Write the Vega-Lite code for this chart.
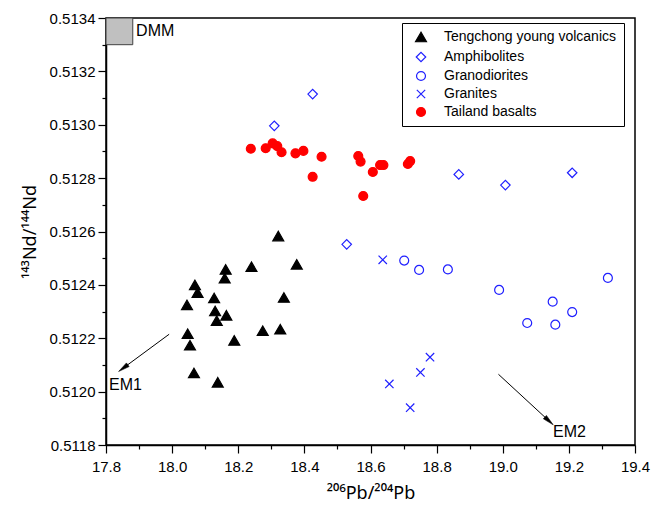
{
  "$schema": "https://vega.github.io/schema/vega-lite/v6.json",
  "width": 529,
  "height": 427,
  "autosize": "none",
  "padding": {"left": 106, "top": 18, "right": 16, "bottom": 66},
  "background": "white",
  "config": {
    "font": "Liberation Sans",
    "view": {"stroke": "black", "strokeWidth": 1.5},
    "axis": {
      "grid": false,
      "domainColor": "black",
      "domainWidth": 1.5,
      "tickColor": "black",
      "tickWidth": 1.2,
      "labelColor": "black",
      "titleColor": "black",
      "labelFont": "Liberation Sans",
      "titleFont": "Noto Sans",
      "labelFontSize": 15,
      "titleFontSize": 18,
      "titleFontWeight": "normal",
      "labelOverlap": false,
      "labelFlush": false
    }
  },
  "datasets": {
    "pts": [
      {"group": "Tengchong young volcanics", "x": 18.321, "y": 0.512583},
      {"group": "Tengchong young volcanics", "x": 18.162, "y": 0.512458},
      {"group": "Tengchong young volcanics", "x": 18.24, "y": 0.512468},
      {"group": "Tengchong young volcanics", "x": 18.377, "y": 0.512477},
      {"group": "Tengchong young volcanics", "x": 18.159, "y": 0.512425},
      {"group": "Tengchong young volcanics", "x": 18.069, "y": 0.5124},
      {"group": "Tengchong young volcanics", "x": 18.077, "y": 0.512371},
      {"group": "Tengchong young volcanics", "x": 18.045, "y": 0.512325},
      {"group": "Tengchong young volcanics", "x": 18.127, "y": 0.512351},
      {"group": "Tengchong young volcanics", "x": 18.338, "y": 0.512353},
      {"group": "Tengchong young volcanics", "x": 18.13, "y": 0.512302},
      {"group": "Tengchong young volcanics", "x": 18.164, "y": 0.512286},
      {"group": "Tengchong young volcanics", "x": 18.135, "y": 0.512266},
      {"group": "Tengchong young volcanics", "x": 18.047, "y": 0.512217},
      {"group": "Tengchong young volcanics", "x": 18.274, "y": 0.512228},
      {"group": "Tengchong young volcanics", "x": 18.327, "y": 0.512234},
      {"group": "Tengchong young volcanics", "x": 18.188, "y": 0.512192},
      {"group": "Tengchong young volcanics", "x": 18.054, "y": 0.512174},
      {"group": "Tengchong young volcanics", "x": 18.066, "y": 0.51207},
      {"group": "Tengchong young volcanics", "x": 18.138, "y": 0.512035},
      {"group": "Amphibolites", "x": 18.425, "y": 0.513115},
      {"group": "Amphibolites", "x": 18.309, "y": 0.512996},
      {"group": "Amphibolites", "x": 18.528, "y": 0.512552},
      {"group": "Amphibolites", "x": 18.867, "y": 0.512814},
      {"group": "Amphibolites", "x": 19.008, "y": 0.512774},
      {"group": "Amphibolites", "x": 19.21, "y": 0.51282},
      {"group": "Granodiorites", "x": 18.702, "y": 0.512491},
      {"group": "Granodiorites", "x": 18.747, "y": 0.512456},
      {"group": "Granodiorites", "x": 18.834, "y": 0.512458},
      {"group": "Granodiorites", "x": 18.989, "y": 0.512381},
      {"group": "Granodiorites", "x": 19.151, "y": 0.512337},
      {"group": "Granodiorites", "x": 19.21, "y": 0.512298},
      {"group": "Granodiorites", "x": 19.074, "y": 0.512257},
      {"group": "Granodiorites", "x": 19.159, "y": 0.512251},
      {"group": "Granodiorites", "x": 19.318, "y": 0.512426},
      {"group": "Granites", "x": 18.637, "y": 0.512494},
      {"group": "Granites", "x": 18.657, "y": 0.512029},
      {"group": "Granites", "x": 18.72, "y": 0.51194},
      {"group": "Granites", "x": 18.751, "y": 0.512072},
      {"group": "Granites", "x": 18.78, "y": 0.512129},
      {"group": "Tailand basalts", "x": 18.238, "y": 0.51291},
      {"group": "Tailand basalts", "x": 18.283, "y": 0.512912},
      {"group": "Tailand basalts", "x": 18.304, "y": 0.51293},
      {"group": "Tailand basalts", "x": 18.318, "y": 0.51292},
      {"group": "Tailand basalts", "x": 18.331, "y": 0.512897},
      {"group": "Tailand basalts", "x": 18.373, "y": 0.512893},
      {"group": "Tailand basalts", "x": 18.397, "y": 0.512902},
      {"group": "Tailand basalts", "x": 18.452, "y": 0.51288},
      {"group": "Tailand basalts", "x": 18.425, "y": 0.512805},
      {"group": "Tailand basalts", "x": 18.563, "y": 0.512883},
      {"group": "Tailand basalts", "x": 18.57, "y": 0.512862},
      {"group": "Tailand basalts", "x": 18.607, "y": 0.512823},
      {"group": "Tailand basalts", "x": 18.629, "y": 0.512849},
      {"group": "Tailand basalts", "x": 18.639, "y": 0.512849},
      {"group": "Tailand basalts", "x": 18.713, "y": 0.512853},
      {"group": "Tailand basalts", "x": 18.72, "y": 0.512864},
      {"group": "Tailand basalts", "x": 18.578, "y": 0.512733}
    ],
    "dmm": [{"x": 17.8, "x2": 17.881, "y": 0.5133, "y2": 0.5134}],
    "labels": [
      {"x": 17.891, "y": 0.51335, "label": "DMM"},
      {"x": 17.809, "y": 0.512025, "label": "EM1"},
      {"x": 19.152, "y": 0.51185, "label": "EM2"}
    ],
    "arrows": [
      {"name": "EM1", "x": 17.991, "y": 0.512215, "hx": 17.852, "hy": 0.512088},
      {"name": "EM2", "x": 18.987, "y": 0.512065, "hx": 19.14, "hy": 0.51189}
    ]
  },
  "encoding": {
    "x": {
      "field": "x",
      "type": "quantitative",
      "scale": {"domain": [17.8, 19.4], "nice": false, "zero": false},
      "axis": {
        "title": "²⁰⁶Pb/²⁰⁴Pb",
        "values": [17.8, 17.9, 18.0, 18.1, 18.2, 18.3, 18.4, 18.5, 18.6, 18.7, 18.8, 18.9, 19.0, 19.1, 19.2, 19.3, 19.4],
        "labelExpr": "round(datum.value*10)%2==0 ? format(datum.value,'.1f') : ''",
        "tickSize": {"condition": {"test": "round(datum.value*10)%2==0", "value": 8}, "value": 4},
        "labelPadding": 6,
        "titlePadding": 10
      }
    },
    "y": {
      "field": "y",
      "type": "quantitative",
      "scale": {"domain": [0.5118, 0.5134], "nice": false, "zero": false},
      "axis": {
        "title": "¹⁴³Nd/¹⁴⁴Nd",
        "values": [0.5118, 0.5119, 0.512, 0.5121, 0.5122, 0.5123, 0.5124, 0.5125, 0.5126, 0.5127, 0.5128, 0.5129, 0.513, 0.5131, 0.5132, 0.5133, 0.5134],
        "labelExpr": "round(datum.value*10000)%2==0 ? format(datum.value,'.4f') : ''",
        "tickSize": {"condition": {"test": "round(datum.value*10000)%2==0", "value": 8}, "value": 4},
        "labelPadding": 3,
        "titlePadding": 10
      }
    }
  },
  "layer": [
    {
      "data": {"name": "dmm"},
      "mark": {"type": "rect", "fill": "#c0c0c0", "stroke": "#404040", "strokeWidth": 1},
      "encoding": {"x2": {"field": "x2"}, "y2": {"field": "y2"}}
    },
    {
      "data": {"name": "arrows"},
      "mark": {"type": "rule", "color": "black", "strokeWidth": 1},
      "encoding": {"x2": {"field": "hx"}, "y2": {"field": "hy"}}
    },
    {
      "data": {"name": "arrows"},
      "transform": [{"filter": {"field": "name", "equal": "EM1"}}],
      "mark": {"type": "point", "shape": "M0,-1L0.4,1L-0.4,1Z", "filled": true, "fill": "black", "stroke": "black", "strokeWidth": 0.5, "size": 130, "angle": 233.6, "opacity": 1},
      "encoding": {"x": {"field": "hx", "type": "quantitative"}, "y": {"field": "hy", "type": "quantitative"}}
    },
    {
      "data": {"name": "arrows"},
      "transform": [{"filter": {"field": "name", "equal": "EM2"}}],
      "mark": {"type": "point", "shape": "M0,-1L0.4,1L-0.4,1Z", "filled": true, "fill": "black", "stroke": "black", "strokeWidth": 0.5, "size": 130, "angle": 132.7, "opacity": 1},
      "encoding": {"x": {"field": "hx", "type": "quantitative"}, "y": {"field": "hy", "type": "quantitative"}}
    },
    {
      "data": {"name": "labels"},
      "mark": {"type": "text", "align": "left", "baseline": "middle", "fontSize": 16, "font": "Liberation Sans", "color": "black"},
      "encoding": {"text": {"field": "label"}}
    },
    {
      "data": {"name": "pts"},
      "mark": {"type": "point", "strokeWidth": 1.2, "opacity": 1},
      "encoding": {
        "shape": {
          "field": "group",
          "type": "nominal",
          "scale": {
            "domain": ["Tengchong young volcanics", "Amphibolites", "Granodiorites", "Granites", "Tailand basalts"],
            "range": ["triangle-up", "diamond", "circle", "M-1,-1L1,1M-1,1L1,-1", "circle"]
          },
          "legend": {
            "title": null,
            "orient": "none",
            "legendX": 296,
            "legendY": 5,
            "strokeColor": "black",
            "padding": 7,
            "symbolOffset": 5,
            "labelOffset": 16,
            "rowPadding": 4.0,
            "labelFont": "Liberation Sans",
            "labelFontSize": 14,
            "labelColor": "black",
            "symbolStrokeWidth": 1.2,
            "labelLimit": 300
          }
        },
        "fill": {
          "field": "group",
          "type": "nominal",
          "scale": {
            "domain": ["Tengchong young volcanics", "Amphibolites", "Granodiorites", "Granites", "Tailand basalts"],
            "range": ["black", "transparent", "transparent", "transparent", "#ff0000"]
          }
        },
        "stroke": {
          "field": "group",
          "type": "nominal",
          "scale": {
            "domain": ["Tengchong young volcanics", "Amphibolites", "Granodiorites", "Granites", "Tailand basalts"],
            "range": ["black", "#2020ff", "#2020ff", "#2020ff", "#ff0000"]
          }
        },
        "size": {
          "field": "group",
          "type": "nominal",
          "scale": {
            "type": "ordinal",
            "domain": ["Tengchong young volcanics", "Amphibolites", "Granodiorites", "Granites", "Tailand basalts"],
            "range": [120, 90, 80, 70, 80]
          }
        }
      }
    }
  ]
}
